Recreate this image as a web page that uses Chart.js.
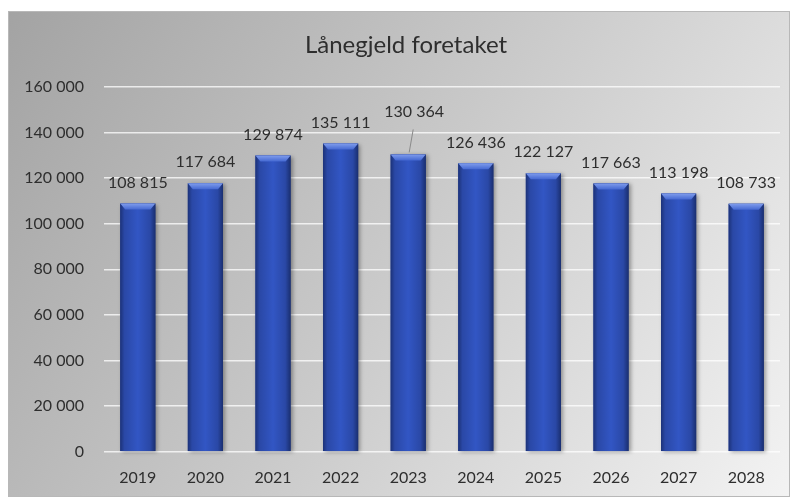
<!DOCTYPE html>
<html>
<head>
<meta charset="utf-8">
<script src="https://cdn.jsdelivr.net/npm/chart.js@4.4.0/dist/chart.umd.min.js"></script>
<style>
  body { margin: 0; background: #fff; }
  #wrap { position: absolute; left: 8px; top: 11px; width: 782px; height: 486px; }
</style>
</head>
<body>
<div id="wrap"><canvas id="myChart"></canvas></div>
<script>
const years = ["2019", "2020", "2021", "2022", "2023", "2024", "2025", "2026", "2027", "2028"];
const debt = [108815, 117684, 129874, 135111, 130364, 126436, 122127, 117663, 113198, 108733];
const yTicks = [0, 20000, 40000, 60000, 80000, 100000, 120000, 140000, 160000];

// label for 2023 sits higher with a leader line, like in Excel
const callouts = { 4: { dx: 6, dy: 43 } };

const fmt = (v) => String(v).replace(/\B(?=(\d{3})+(?!\d))/g, " ");

const background = {
  id: "background",
  beforeDraw(chart) {
    const { ctx, width, height } = chart;
    const g = ctx.createLinearGradient(0, 0, width, height);
    g.addColorStop(0, "#a3a3a3");
    g.addColorStop(0.5, "#cacaca");
    g.addColorStop(1, "#f3f3f3");
    ctx.save();
    ctx.fillStyle = g;
    ctx.fillRect(0, 0, width, height);
    ctx.strokeStyle = "#b8b8b8";
    ctx.lineWidth = 1;
    ctx.strokeRect(0.5, 0.5, width - 1, height - 1);
    ctx.restore();
  },
};

// Excel centres the title a bit right of the canvas middle
const titleShift = {
  id: "titleShift",
  afterLayout(chart) {
    if (chart.titleBlock) chart.titleBlock.left += 24;
  },
};

const fancyBars = {
  id: "fancyBars",
  afterDatasetsDraw(chart) {
    const ctx = chart.ctx;
    const meta = chart.getDatasetMeta(0);
    meta.data.forEach((bar) => {
      const { x, y, base, width } = bar.getProps(["x", "y", "base", "width"], true);
      const l = x - width / 2;
      const r = x + width / 2;
      ctx.save();
      // shadow
      ctx.shadowColor = "rgba(0,0,0,0.35)";
      ctx.shadowBlur = 4;
      ctx.shadowOffsetX = 2;
      ctx.shadowOffsetY = 1;
      const g = ctx.createLinearGradient(l, 0, r, 0);
      g.addColorStop(0, "#1c3278");
      g.addColorStop(0.12, "#2a48a6");
      g.addColorStop(0.5, "#3256c4");
      g.addColorStop(0.85, "#2a48a6");
      g.addColorStop(1, "#1a2f70");
      ctx.fillStyle = g;
      ctx.fillRect(l, y, width, base - y);
      ctx.restore();
      // top bevel
      ctx.save();
      const bv = 6;
      const tg = ctx.createLinearGradient(0, y, 0, y + bv);
      tg.addColorStop(0, "#7f9cec");
      tg.addColorStop(1, "#4468d2");
      ctx.fillStyle = tg;
      ctx.beginPath();
      ctx.moveTo(l, y);
      ctx.lineTo(r, y);
      ctx.lineTo(r - 5, y + bv);
      ctx.lineTo(l + 5, y + bv);
      ctx.closePath();
      ctx.fill();
      ctx.restore();
    });
  },
};

const valueLabels = {
  id: "valueLabels",
  afterDraw(chart) {
    const ctx = chart.ctx;
    const meta = chart.getDatasetMeta(0);
    ctx.save();
    ctx.font = "16px Lato";
    ctx.fillStyle = "#2e2e2e";
    ctx.textAlign = "center";
    ctx.textBaseline = "middle";
    meta.data.forEach((bar, i) => {
      const c = callouts[i];
      let lx = bar.x;
      let ly = bar.y - 21;
      if (c) {
        lx = bar.x + c.dx;
        ly = bar.y - c.dy;
        ctx.strokeStyle = "#8a8a8a";
        ctx.lineWidth = 1;
        ctx.beginPath();
        ctx.moveTo(lx - 1, ly + 18);
        ctx.lineTo(bar.x + 1, bar.y - 2);
        ctx.stroke();
      }
      ctx.fillText(fmt(debt[i]), lx, ly);
    });
    ctx.restore();
  },
};

const ctx = document.getElementById("myChart").getContext("2d");
new Chart(ctx, {
  type: "bar",
  data: {
    labels: years,
    datasets: [
      {
        label: "Lånegjeld",
        data: debt,
        backgroundColor: "#2d4bb0",
        categoryPercentage: 1,
        barPercentage: 0.52,
      },
    ],
  },
  options: {
    responsive: true,
    maintainAspectRatio: false,
    animation: false,
    layout: { padding: { left: 0, right: 10, top: 0, bottom: 2 } },
    plugins: {
      legend: { display: false },
      tooltip: { enabled: false },
      title: {
        display: true,
        text: "Lånegjeld foretaket",
        color: "#2e2e2e",
        font: { family: "Lato", size: 24, weight: "normal" },
        padding: { top: 20, bottom: 27 },
      },
    },
    scales: {
      x: {
        grid: { display: false },
        border: { display: false },
        ticks: { color: "#2e2e2e", font: { family: "Lato", size: 16 }, padding: 8 },
      },
      y: {
        min: 0,
        max: 160000,
        afterBuildTicks: (axis) => {
          axis.ticks = yTicks.map((v) => ({ value: v }));
        },
        afterFit: (axis) => {
          axis.width = 96;
        },
        grid: { color: "rgba(255,255,255,0.75)", lineWidth: 1.5, drawTicks: false },
        border: { display: false },
        ticks: {
          color: "#2e2e2e",
          font: { family: "Lato", size: 16 },
          padding: 20,
          callback: (v) => fmt(v),
        },
      },
    },
  },
  plugins: [background, titleShift, fancyBars, valueLabels],
});
</script>
</body>
</html>
